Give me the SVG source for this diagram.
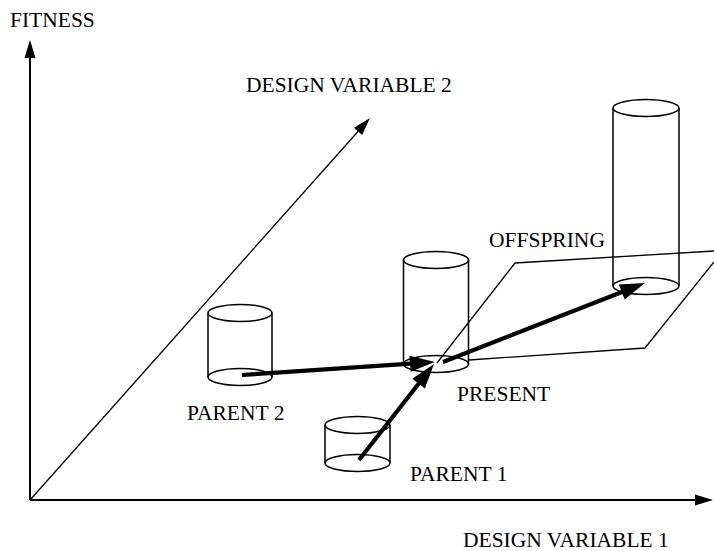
<svg xmlns="http://www.w3.org/2000/svg" width="714" height="551" viewBox="0 0 714 551">
<style>
text{font-family:"Liberation Serif","Times New Roman",serif;font-size:21.5px;fill:#000}
.cyl{fill:none;stroke:#000;stroke-width:1.5}
.axis{fill:none;stroke:#000;stroke-width:2}
.thin{fill:none;stroke:#000;stroke-width:1.3}
.thick{fill:none;stroke:#000;stroke-width:4.2}
</style>
<defs>
<marker id="ah" markerUnits="userSpaceOnUse" markerWidth="20" markerHeight="12" refX="9" refY="5.5" orient="auto" overflow="visible">
<path d="M0,0 L18,5.5 L0,11 z" fill="#000"/>
</marker>
<marker id="ahb" markerUnits="userSpaceOnUse" markerWidth="26" markerHeight="18" refX="12" refY="8" orient="auto" overflow="visible">
<path d="M0,0 L25,8 L0,16 z" fill="#000"/>
</marker>
</defs>
<g id="axes">
<line class="axis" x1="30" y1="500" x2="30" y2="49" marker-end="url(#ah)"/>
<line class="axis" x1="30" y1="500" x2="704" y2="500" marker-end="url(#ah)"/>
<line class="thin" x1="30" y1="500" x2="364" y2="124.7" marker-end="url(#ah)"/>
</g>
<g id="plane">
<path class="thin" d="M437,363 L515,263 L714,251"/>
<path class="thin" d="M714,262 L645,348 L469,360"/>
</g>
<g id="parent2">
<ellipse class="cyl" cx="240" cy="313" rx="32" ry="8.5"/>
<ellipse class="cyl" cx="240" cy="377" rx="32" ry="8.5"/>
<line class="cyl" x1="208" y1="313" x2="208" y2="377"/>
<line class="cyl" x1="272" y1="313" x2="272" y2="377"/>
</g>
<g id="parent1">
<ellipse class="cyl" cx="357.5" cy="425" rx="32.5" ry="8.5"/>
<ellipse class="cyl" cx="357.5" cy="463" rx="32.5" ry="8.5"/>
<line class="cyl" x1="325" y1="425" x2="325" y2="463"/>
<line class="cyl" x1="390" y1="425" x2="390" y2="463"/>
</g>
<g id="present">
<ellipse class="cyl" cx="436" cy="260" rx="32.5" ry="8.5"/>
<ellipse class="cyl" cx="436" cy="364" rx="32.5" ry="8.5"/>
<line class="cyl" x1="403.5" y1="260" x2="403.5" y2="364"/>
<line class="cyl" x1="468.5" y1="260" x2="468.5" y2="364"/>
</g>
<g id="offspring">
<ellipse class="cyl" cx="646" cy="108" rx="33" ry="8.5"/>
<ellipse class="cyl" cx="646" cy="286" rx="33" ry="8.5"/>
<line class="cyl" x1="613" y1="108" x2="613" y2="286"/>
<line class="cyl" x1="679" y1="108" x2="679" y2="286"/>
</g>
<g id="connectors">
<line class="thick" x1="242" y1="375" x2="422" y2="362.9" marker-end="url(#ahb)"/>
<line class="thick" x1="359" y1="460" x2="426" y2="374.2" marker-end="url(#ahb)"/>
<line class="thick" x1="443" y1="362" x2="632.9" y2="287.7" marker-end="url(#ahb)"/>
</g>
<g id="labels">
<text x="10" y="27">FITNESS</text>
<text x="246" y="92">DESIGN VARIABLE 2</text>
<text x="489" y="247">OFFSPRING</text>
<text x="457" y="401">PRESENT</text>
<text x="187" y="420">PARENT 2</text>
<text x="410" y="481">PARENT 1</text>
<text x="463" y="547">DESIGN VARIABLE 1</text>
</g>
</svg>
